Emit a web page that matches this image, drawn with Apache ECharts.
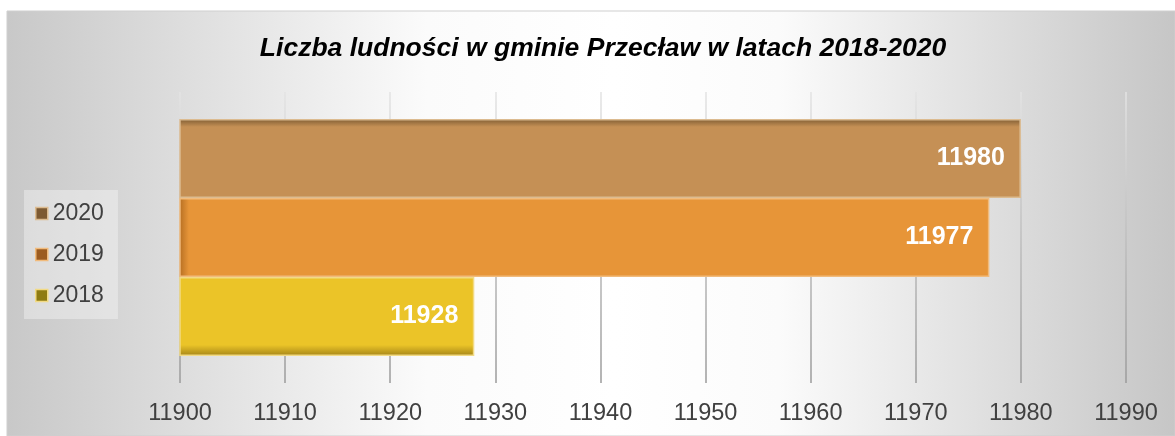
<!DOCTYPE html>
<html>
<head>
<meta charset="utf-8">
<script src="https://cdn.jsdelivr.net/npm/echarts@6/dist/echarts.min.js"></script>
<style>
  html, body { margin: 0; padding: 0; background: #fff; }
  #chart { width: 1175px; height: 436px; }
</style>
</head>
<body>
<div id="chart"></div>
<script>
let years = ['2020', '2019', '2018'];
let values = [11980, 11977, 11928];
let category = ['Liczba ludności'];
let axisMin = 11900, axisMax = 11990, axisStep = 10;

let barColors = ['#c59055', '#e79538', '#ebc428'];
let edgeColors = ['#7f5d34', '#b56e22', '#a48418'];
let borderColors = ['#dcbb90', '#f1bb7c', '#f2da84'];
let legendColors = ['#7d5a32', '#9c5c20', '#8e7b12'];

let myChart = echarts.init(document.getElementById('chart'));

function fillFor(i) {
    // dunkler Rand oben (2020) bzw. unten (2018) wie im Original
    if (i === 0) {
        return new echarts.graphic.LinearGradient(0, 0, 0, 1, [
            {offset: 0, color: edgeColors[0]},
            {offset: 0.1, color: barColors[0]},
            {offset: 1, color: barColors[0]}
        ]);
    }
    if (i === 2) {
        return new echarts.graphic.LinearGradient(0, 0, 0, 1, [
            {offset: 0, color: barColors[2]},
            {offset: 0.86, color: barColors[2]},
            {offset: 1, color: edgeColors[2]}
        ]);
    }
    return new echarts.graphic.LinearGradient(0, 0, 1, 0, [
        {offset: 0, color: edgeColors[1]},
        {offset: 0.012, color: barColors[1]},
        {offset: 1, color: barColors[1]}
    ]);
}

let series = [];
for (let i = 0; i < years.length; i++) {
    series.push({
        name: years[i],
        type: 'bar',
        barWidth: 79,
        barGap: '0%',
        data: [values[i]],
        itemStyle: {
            color: fillFor(i),
            borderColor: borderColors[i],
            borderWidth: 1.5
        },
        label: {
            show: true,
            position: 'insideRight',
            distance: 16,
            color: '#ffffff',
            fontFamily: 'Liberation Sans, Arial, sans-serif',
            fontWeight: 'bold',
            fontSize: 25
        }
    });
}

let legendData = [];
for (let i = 0; i < years.length; i++) {
    legendData.push({
        name: years[i],
        itemStyle: {color: legendColors[i], borderColor: borderColors[i], borderWidth: 1.5}
    });
}

let option = {
    animation: false,
    graphic: [{
        type: 'rect',
        z: -10,
        silent: true,
        shape: {x: 7, y: 11, width: 1168, height: 425},
        style: {
            fill: new echarts.graphic.LinearGradient(0, 0, 1, 0, [
                {offset: 0, color: '#c8c8c8'},
                {offset: 0.36, color: '#fbfbfb'},
                {offset: 0.52, color: '#ffffff'},
                {offset: 0.66, color: '#fbfbfb'},
                {offset: 1, color: '#c6c6c6'}
            ]),
            stroke: '#cfcfcf',
            lineWidth: 1
        }
    }],
    title: {
        text: 'Liczba ludności w gminie Przecław w latach 2018-2020',
        left: 598,
        textAlign: 'center',
        top: 30,
        textStyle: {
            fontFamily: 'Liberation Sans, Arial, sans-serif',
            fontStyle: 'italic',
            fontWeight: 'bold',
            fontSize: 26.5,
            color: '#000000'
        }
    },
    legend: {
        orient: 'vertical',
        left: 24,
        top: 190,
        padding: [12, 14, 12, 11],
        backgroundColor: 'rgba(255,255,255,0.35)',
        itemWidth: 12,
        itemHeight: 12,
        itemGap: 18,
        icon: 'rect',
        data: legendData,
        textStyle: {
            fontFamily: 'Liberation Sans, Arial, sans-serif',
            fontSize: 23,
            color: '#404040'
        }
    },
    grid: {
        left: 180,
        right: 49,
        top: 92,
        bottom: 53,
        containLabel: false
    },
    xAxis: {
        type: 'value',
        min: axisMin,
        max: axisMax,
        interval: axisStep,
        axisLine: {show: false},
        axisTick: {show: false},
        axisLabel: {
            margin: 19,
            formatter: function (v) { return String(v); },
            fontFamily: 'Liberation Sans, Arial, sans-serif',
            fontSize: 23.5,
            color: '#404040'
        },
        splitLine: {
            lineStyle: {
                width: 1.5,
                color: new echarts.graphic.LinearGradient(0, 0, 0, 1, [
                    {offset: 0, color: '#e4e4e4'},
                    {offset: 1, color: '#9a9a9a'}
                ])
            }
        }
    },
    yAxis: {
        type: 'category',
        data: category,
        axisLine: {show: false},
        axisTick: {show: false},
        axisLabel: {show: false}
    },
    series: series
};

myChart.setOption(option);
</script>
</body>
</html>
